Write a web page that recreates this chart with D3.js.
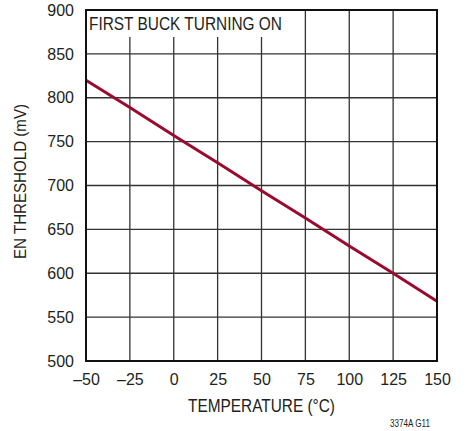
<!DOCTYPE html>
<html>
<head>
<meta charset="utf-8">
<script src="https://cdn.jsdelivr.net/npm/d3@7"></script>
<style>
  body { margin: 0; background: #fff; }
  svg text { font-family: "Liberation Sans", Arial, sans-serif; fill: #231f20; }
</style>
</head>
<body>
<script>
var width = 467;
var height = 431;

// temperature (°C) vs EN threshold (mV)
var temps = [-50, -25, 0, 25, 50, 75, 100, 125, 150];
var threshold = [820, 789, 757, 726, 694, 663, 631, 600, 568];
var xTicks = [-50, -25, 0, 25, 50, 75, 100, 125, 150];
var yTicks = [500, 550, 600, 650, 700, 750, 800, 850, 900];

var margin = {top: 10, right: 30, bottom: 70, left: 86};
var plotW = 437 - margin.left,
    plotH = 361 - margin.top;

var svg = d3.select("body").append("svg")
    .attr("width", width)
    .attr("height", height);

var x = d3.scaleLinear().domain([-50, 150]).range([0, plotW]);
var y = d3.scaleLinear().domain([500, 900]).range([plotH, 0]);

var g = svg.append("g")
    .attr("transform", "translate(" + margin.left + "," + margin.top + ")");

// grid
g.selectAll(".vgrid")
    .data(xTicks.slice(1, -1))
    .enter().append("line")
    .attr("x1", function (d) { return x(d); })
    .attr("x2", function (d) { return x(d); })
    .attr("y1", 0).attr("y2", plotH)
    .attr("stroke", "#333").attr("stroke-width", 1.3);

g.selectAll(".hgrid")
    .data(yTicks.slice(1, -1))
    .enter().append("line")
    .attr("y1", function (d) { return y(d); })
    .attr("y2", function (d) { return y(d); })
    .attr("x1", 0).attr("x2", plotW)
    .attr("stroke", "#333").attr("stroke-width", 1.3);

// title box covers the grid
g.append("rect")
    .attr("x", 1).attr("y", 1)
    .attr("width", 204).attr("height", 26)
    .attr("fill", "#fff");

g.append("text")
    .attr("x", 3).attr("y", 20)
    .attr("font-size", 18.5)
    .attr("textLength", 193)
    .attr("lengthAdjust", "spacingAndGlyphs")
    .text("FIRST BUCK TURNING ON");

// data line
var line = d3.line()
    .x(function (d, i) { return x(temps[i]); })
    .y(function (d) { return y(d); });

g.append("path")
    .datum(threshold)
    .attr("d", line)
    .attr("fill", "none")
    .attr("stroke", "#9b0a2e")
    .attr("stroke-width", 3);

// frame
g.append("rect")
    .attr("width", plotW).attr("height", plotH)
    .attr("fill", "none")
    .attr("stroke", "#111").attr("stroke-width", 2);

// axes
var xAxis = d3.axisBottom(x).tickValues(xTicks).tickSize(0).tickPadding(13)
    .tickFormat(function (d) { return d < 0 ? "\u2013" + Math.abs(d) : d; });
var yAxis = d3.axisLeft(y).tickValues(yTicks).tickSize(0).tickPadding(12);

var gx = g.append("g")
    .attr("transform", "translate(0," + plotH + ")")
    .call(xAxis);
var gy = g.append("g").call(yAxis);

[gx, gy].forEach(function (a) {
    a.select(".domain").remove();
    a.selectAll("text").attr("font-size", 16).attr("fill", "#231f20")
        .style("font-family", "'Liberation Sans', Arial, sans-serif");
});

svg.append("text")
    .attr("x", margin.left + plotW / 2).attr("y", 412)
    .attr("text-anchor", "middle")
    .attr("font-size", 18)
    .attr("textLength", 147)
    .attr("lengthAdjust", "spacingAndGlyphs")
    .text("TEMPERATURE (\u00b0C)");

svg.append("text")
    .attr("transform", "translate(26," + (margin.top + plotH / 2 - 4) + ") rotate(-90)")
    .attr("text-anchor", "middle")
    .attr("font-size", 17)
    .attr("textLength", 155)
    .attr("lengthAdjust", "spacingAndGlyphs")
    .text("EN THRESHOLD (mV)");

svg.append("text")
    .attr("x", 430).attr("y", 427)
    .attr("text-anchor", "end")
    .attr("font-size", 10)
    .attr("textLength", 40)
    .attr("lengthAdjust", "spacingAndGlyphs")
    .text("3374A G11");
</script>
</body>
</html>
